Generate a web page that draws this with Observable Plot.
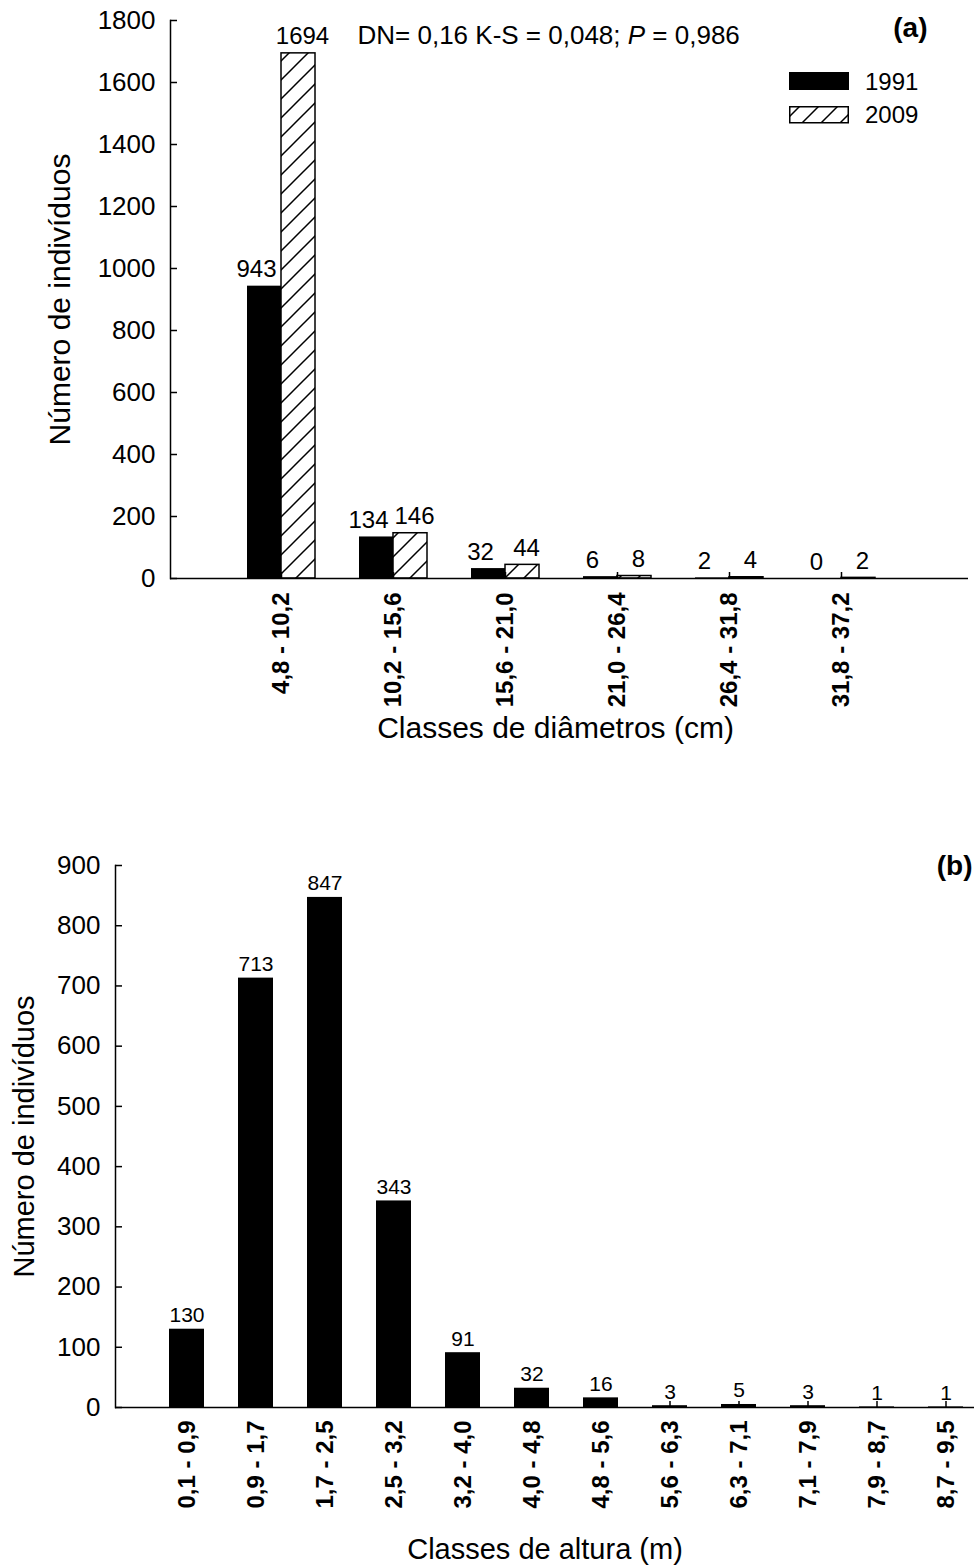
<!DOCTYPE html>
<html>
<head>
<meta charset="utf-8">
<script src="https://cdn.jsdelivr.net/npm/d3@7"></script>
<script src="https://cdn.jsdelivr.net/npm/@observablehq/plot@0.6"></script>
<style>
  body { margin: 0; background: #fff; font-family: 'Liberation Sans', Arial, Helvetica, sans-serif; }
  #wrap { position: relative; width: 974px; height: 1566px; background: #fff; }
  #wrap svg { display: block; }
  #legend { position: absolute; left: 789px; top: 60px; overflow: visible; }
</style>
</head>
<body>
<svg width="0" height="0" style="position:absolute">
  <defs>
    <pattern id="hatch" patternUnits="userSpaceOnUse" width="19" height="19">
      <path d="M-2,2 L2,-2 M0,19 L19,0 M17,21 L21,17" stroke="#000" stroke-width="1.5" fill="none"/>
    </pattern>
  </defs>
</svg>
<div id="wrap">
  <div id="a" style="position:relative"></div>
  <div id="b"></div>
  <svg id="legend" width="160" height="80">
    <rect x="0" y="12" width="60" height="18" fill="#000"/>
    <text x="76" y="30" font-size="24" font-family="'Liberation Sans', Arial, sans-serif">1991</text>
    <rect x="0.75" y="46.75" width="58.5" height="16" fill="url(#hatch)" stroke="#000" stroke-width="1.5"/>
    <text x="76" y="63" font-size="24" font-family="'Liberation Sans', Arial, sans-serif">2009</text>
  </svg>
</div>
<script>
// ---- Panel (a): diameter classes ----
const diamClasses = ["4,8 - 10,2", "10,2 - 15,6", "15,6 - 21,0", "21,0 - 26,4", "26,4 - 31,8", "31,8 - 37,2"];
const diam1991 = [943, 134, 32, 6, 2, 0];
const diam2009 = [1694, 146, 44, 8, 4, 2];
const diamTicks = [0, 200, 400, 600, 800, 1000, 1200, 1400, 1600, 1800];

// ---- Panel (b): height classes ----
const heightClasses = ["0,1 - 0,9", "0,9 - 1,7", "1,7 - 2,5", "2,5 - 3,2", "3,2 - 4,0", "4,0 - 4,8",
  "4,8 - 5,6", "5,6 - 6,3", "6,3 - 7,1", "7,1 - 7,9", "7,9 - 8,7", "8,7 - 9,5"];
const heightCounts = [130, 713, 847, 343, 91, 32, 16, 3, 5, 3, 1, 1];
const heightTicks = [0, 100, 200, 300, 400, 500, 600, 700, 800, 900];

const yTitle = "Número de indivíduos";
const xTitleA = "Classes de diâmetros (cm)";
const xTitleB = "Classes de altura (m)";
const statText = "DN= 0,16 K-S = 0,048; P = 0,986";

const font = "'Liberation Sans', Arial, Helvetica, sans-serif";

const rows1991 = diamClasses.map((c, i) => ({cls: c, n: diam1991[i]}));
const rows2009 = diamClasses.map((c, i) => ({cls: c, n: diam2009[i]}));
const rowsB = heightClasses.map((c, i) => ({cls: c, n: heightCounts[i]}));

const chartA = Plot.plot({
  width: 974, height: 780,
  marginTop: 20, marginBottom: 202, marginLeft: 170, marginRight: 6,
  style: {fontFamily: font, fontSize: "25px", background: "white", color: "black", overflow: "visible"},
  x: {domain: diamClasses, paddingInner: 0.395, paddingOuter: 0.75, align: 0.45},
  y: {domain: [0, 1800]},
  marks: [
    Plot.barY(rows1991, {x: "cls", y: "n", fill: "black", insetLeft: 0, insetRight: 34}),
    Plot.barY(rows2009, {x: "cls", y: "n", fill: "url(#hatch)", stroke: "black", strokeWidth: 1.5, insetLeft: 34, insetRight: 0}),
    Plot.text(rows1991, {x: "cls", y: "n", text: d => String(d.n), dx: -25, dy: -9, lineAnchor: "bottom", fontSize: 24}),
    Plot.text(rows2009, {x: "cls", y: "n", text: d => String(d.n), dx: 21, dy: -9, lineAnchor: "bottom", fontSize: 24}),
    Plot.axisY(diamTicks, {tickSize: 0, tickPadding: 15, tickFormat: d => String(d), label: null, fontSize: 26}),
    Plot.axisY(diamTicks, {tickSize: -7, fill: "none", label: null, strokeWidth: 1.5}),
    Plot.axisX({tickSize: 0, tickRotate: -90, tickPadding: 14, fontWeight: "bold", fontSize: 24, label: null}),
    Plot.axisX({tickSize: -6, fill: "none", label: null, strokeWidth: 1.5}),
    Plot.ruleY([0], {stroke: "black", strokeWidth: 1.5}),
    Plot.frame({anchor: "left", stroke: "black", strokeWidth: 1.5}),
    Plot.text([yTitle], {frameAnchor: "left", rotate: -90, textAnchor: "middle", lineAnchor: "top", dx: -122, fontSize: 30}),
    Plot.text([xTitleA], {frameAnchor: "bottom", lineAnchor: "bottom", dy: 159, dx: -14, fontSize: 30}),
    Plot.text(["(a)"], {frameAnchor: "top-right", textAnchor: "end", lineAnchor: "bottom", dx: -41, dy: 16, fontWeight: "bold", fontSize: 28}),
    Plot.text([statText], {frameAnchor: "top-left", textAnchor: "start", lineAnchor: "bottom", dx: 187, dy: 23, fontSize: 26})
  ]
});

// italic P in the statistics text
d3.select(chartA).selectAll("text").filter(function() { return this.textContent === statText; })
  .html('DN= 0,16 K-S = 0,048; <tspan font-style="italic">P</tspan> = 0,986');

const chartB = Plot.plot({
  width: 974, height: 786,
  marginTop: 85, marginBottom: 159, marginLeft: 115, marginRight: 0,
  style: {fontFamily: font, fontSize: "25px", background: "white", color: "black", overflow: "visible"},
  x: {domain: heightClasses, paddingInner: 0.495, paddingOuter: 0.445, align: 0.83},
  y: {domain: [0, 900]},
  marks: [
    Plot.barY(rowsB, {x: "cls", y: "n", fill: "black", inset: 0}),
    Plot.text(rowsB, {x: "cls", y: "n", text: d => String(d.n), dy: -7, lineAnchor: "bottom", fontSize: 21}),
    Plot.axisY(heightTicks, {tickSize: 0, tickPadding: 15, tickFormat: d => String(d), label: null, fontSize: 26}),
    Plot.axisY(heightTicks, {tickSize: -7, fill: "none", label: null, strokeWidth: 1.5}),
    Plot.axisX({tickSize: 0, tickRotate: -90, tickPadding: 13, fontWeight: "bold", fontSize: 24, label: null}),
    Plot.axisX({tickSize: -6, fill: "none", label: null, strokeWidth: 1.5}),
    Plot.ruleY([0], {stroke: "black", strokeWidth: 1.5}),
    Plot.frame({anchor: "left", stroke: "black", strokeWidth: 1.5}),
    Plot.text([yTitle], {frameAnchor: "left", rotate: -90, textAnchor: "middle", lineAnchor: "top", dx: -102, fontSize: 29}),
    Plot.text([xTitleB], {frameAnchor: "bottom", lineAnchor: "bottom", dy: 151, fontSize: 29}),
    Plot.text(["(b)"], {frameAnchor: "top-right", textAnchor: "end", lineAnchor: "bottom", dx: -2, dy: 9, fontWeight: "bold", fontSize: 28})
  ]
});

document.getElementById("a").appendChild(chartA);
document.getElementById("b").appendChild(chartB);
</script>
</body>
</html>
